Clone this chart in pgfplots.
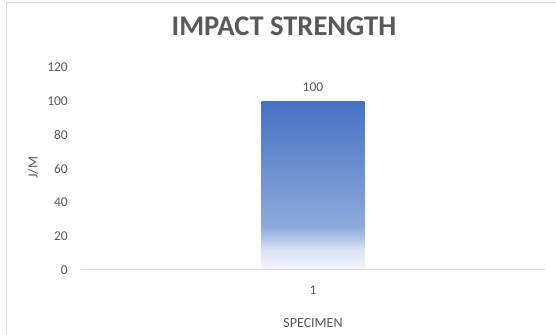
\documentclass[border=0pt]{standalone}
\usepackage{fontspec}
\setmainfont{Carlito}
\usepackage{pgfplots}
\pgfplotsset{compat=1.18}

\definecolor{txtgray}{HTML}{595959}
\definecolor{linegray}{HTML}{D9D9D9}
\definecolor{barblue}{HTML}{4472C4}
\definecolor{fadeA}{HTML}{F4F7FC}
\definecolor{fadeB}{HTML}{DAE3F3}
\definecolor{fadeC}{HTML}{ABBFE5}
\definecolor{fadeD}{HTML}{8EA9DB}

% vertical fade for the bar: the path's box maps onto 25bp..75bp
\pgfdeclareverticalshading{barfade}{100bp}{%
  color(0bp)=(fadeA); color(25bp)=(fadeA); color(31bp)=(fadeB);
  color(35bp)=(fadeC); color(38bp)=(fadeD); color(75bp)=(barblue);
  color(100bp)=(barblue)}

\newcommand{\lblfont}{\fontsize{13.5bp}{16bp}\selectfont}
\newcommand{\axtitlefont}{\fontsize{14bp}{16bp}\selectfont}

\begin{document}
\begin{tikzpicture}
\useasboundingbox (0,0) rectangle (556bp,335bp);
\fill[white] (0,0) rectangle (556bp,335bp);
% chart frame
\draw[linegray, line width=1.2bp] (6.5bp,-5bp) -- (6.5bp,332.5bp) -- (600bp,332.5bp);

\begin{axis}[
  at={(81bp,65bp)}, anchor=south west,
  scale only axis, width=464bp, height=202.5bp,
  xmin=0.5, xmax=1.5, ymin=0, ymax=120,
  ybar, bar width=103bp,
  xtick={1}, ytick={0,20,...,120},
  major tick length=0pt,
  axis line style={draw=none},
  /pgf/number format/assume math mode=true,
  every tick label/.append style={font=\lblfont, text=txtgray},
  yticklabel style={anchor=east, inner sep=0pt, xshift=-13bp},
  xticklabel style={anchor=center, inner sep=0pt, yshift=-20.5bp},
  title={IMPACT STRENGTH},
  title style={at={(axis description cs:0.4375,1.175)}, anchor=center,
    inner sep=0pt, font=\fontsize{28.5bp}{34bp}\selectfont\bfseries, text=txtgray},
  xlabel={SPECIMEN},
  xlabel style={at={(axis description cs:0.5,-0.262)}, anchor=center,
    inner sep=0pt, font=\axtitlefont, text=txtgray},
  ylabel={J/M},
  ylabel style={at={(axis description cs:-0.1034,0.504)}, anchor=center,
    inner sep=0pt, font=\axtitlefont, text=txtgray},
]
\addplot[draw=none, shade, shading=barfade,
  nodes near coords,
  nodes near coords style={anchor=center, inner sep=0pt, yshift=14.5bp,
    font=\lblfont, text=txtgray}]
  coordinates {(1,100)};
\draw[linegray, line width=1.5bp] (rel axis cs:0,0) -- (rel axis cs:1,0);
\end{axis}
\end{tikzpicture}
\end{document}
